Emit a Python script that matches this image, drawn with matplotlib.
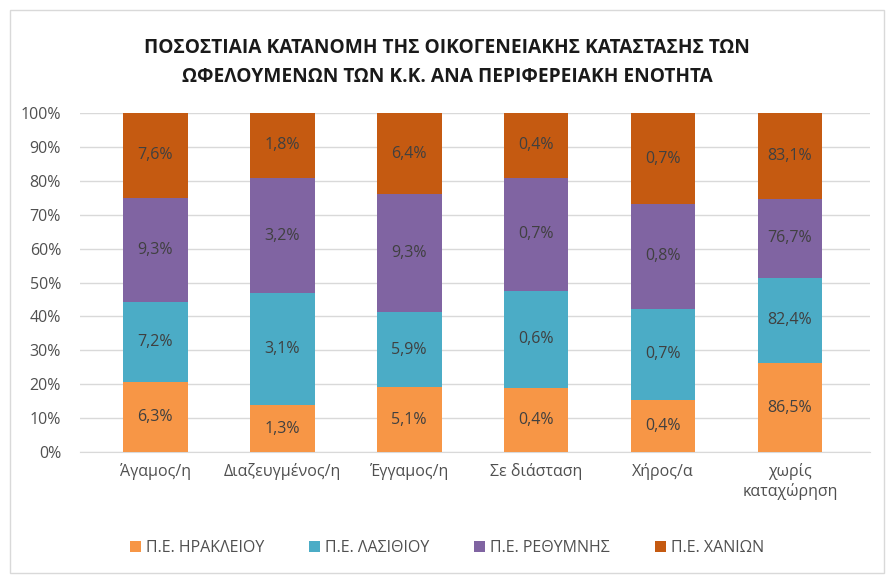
import matplotlib.pyplot as plt
import numpy as np
from matplotlib.patches import Rectangle

plt.rcParams["font.family"] = ["Open Sans", "DejaVu Sans"]

categories = ["Άγαμος/η", "Διαζευγμένος/η", "Έγγαμος/η", "Σε διάσταση", "Χήρος/α", "χωρίς\nκαταχώρηση"]
series_names = ["Π.Ε. ΗΡΑΚΛΕΙΟΥ", "Π.Ε. ΛΑΣΙΘΙΟΥ", "Π.Ε. ΡΕΘΥΜΝΗΣ", "Π.Ε. ΧΑΝΙΩΝ"]
herakleio = [6.3, 1.3, 5.1, 0.4, 0.4, 86.5]
lasithi = [7.2, 3.1, 5.9, 0.6, 0.7, 82.4]
rethymno = [9.3, 3.2, 9.3, 0.7, 0.8, 76.7]
chania = [7.6, 1.8, 6.4, 0.4, 0.7, 83.1]
colors = ["#F79646", "#4BACC6", "#8064A2", "#C55A11"]

values = np.array([herakleio, lasithi, rethymno, chania])
shares = values / values.sum(axis=0) * 100

fig = plt.figure(figsize=(8.94, 5.76), dpi=100)
fig.patches.append(Rectangle((0.011, 0.005), 0.978, 0.978, transform=fig.transFigure,
                             fill=False, edgecolor="#D9D9D9", linewidth=1))
ax = fig.add_axes([0.09, 0.215, 0.883, 0.589])

x = np.arange(len(categories))
bottom = np.zeros(len(categories))
for name, vals, sh, col in zip(series_names, values, shares, colors):
    ax.bar(x, sh, bottom=bottom, width=0.51, color=col, label=name, zorder=3)
    for xi, b, h, v in zip(x, bottom, sh, vals):
        ax.text(xi, b + h / 2, f"{v:.1f}%".replace(".", ","), ha="center", va="center",
                fontsize=11.5, color="#404040", zorder=4)
    bottom += sh

ax.set_xlim(-0.59, len(categories) - 0.37)
ax.set_ylim(0, 100)
ax.set_yticks(range(0, 101, 10))
ax.set_yticklabels([f"{t}%" for t in range(0, 101, 10)])
ax.set_xticks(x)
ax.set_xticklabels(categories)
ax.grid(axis="y", color="#D9D9D9", linewidth=1, zorder=0)
for s in ["top", "right", "left"]:
    ax.spines[s].set_visible(False)
ax.spines["bottom"].set_color("#D9D9D9")
ax.tick_params(axis="both", length=0, labelsize=11.5, labelcolor="#505050")
ax.tick_params(axis="x", pad=8)
ax.tick_params(axis="y", pad=14)

fig.text(0.5, 0.892, "ΠΟΣΟΣΤΙΑΙΑ ΚΑΤΑΝΟΜΗ ΤΗΣ ΟΙΚΟΓΕΝΕΙΑΚΗΣ ΚΑΤΑΣΤΑΣΗΣ ΤΩΝ\nΩΦΕΛΟΥΜΕΝΩΝ ΤΩΝ Κ.Κ. ΑΝΑ ΠΕΡΙΦΕΡΕΙΑΚΗ ΕΝΟΤΗΤΑ",
         ha="center", va="center", fontsize=13.8, fontweight="bold", color="#1A1A1A",
         linespacing=1.6, family=["Liberation Sans Narrow", "Open Sans", "DejaVu Sans"])

fig.legend(loc="center", bbox_to_anchor=(0.5, 0.048), ncol=4, frameon=False,
           fontsize=11.5, labelcolor="#505050", handlelength=0.7, handleheight=0.7,
           handletextpad=0.3, columnspacing=2.8)

fig.savefig("out.png", dpi=100, facecolor="white")
